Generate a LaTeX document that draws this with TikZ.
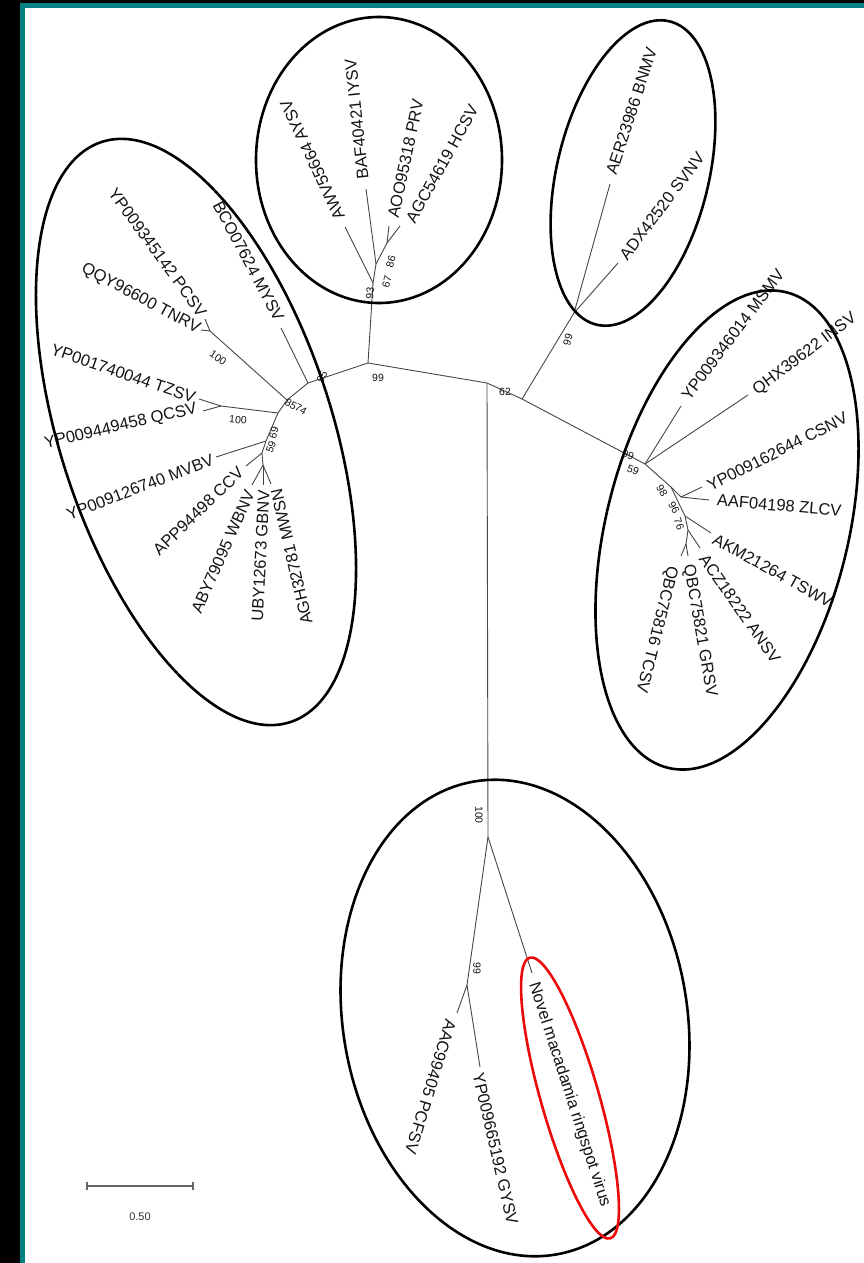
\documentclass[tikz,border=0pt]{standalone}
\usepackage{fontspec}
\setmainfont{Liberation Sans}
\definecolor{brc}{RGB}{70,70,70}
\definecolor{txt}{RGB}{20,20,20}
\definecolor{frameteal}{RGB}{0,128,128}
\definecolor{ringred}{RGB}{235,10,10}
\begin{document}
\begin{tikzpicture}[x=1pt,y=1pt]
\tikzset{
  br/.style={draw=brc, line width=0.9pt},
  leaf/.style={font=\fontsize{16.5}{17}\selectfont, inner sep=0pt, text=txt},
  boot/.style={font=\fontsize{10.5}{11}\selectfont, inner sep=0pt, text=txt},
  clade/.style={draw=black, line width=2.6pt},
}
% page and frame
\useasboundingbox (0,0) rectangle (864,-1263);
\fill[white] (0,0) rectangle (864,-1263);
\fill[black] (0,0) rectangle (20,-1263);
\fill[black] (0,0) rectangle (864,-3);
\fill[frameteal] (20,-3) rectangle (864,-8);
\fill[frameteal] (20,-3) rectangle (25,-1263);

% ---------- internal nodes ----------
\coordinate (C0) at (487,-383);
\coordinate (C1) at (522,-399);
\coordinate (L0) at (368,-363);
\coordinate (L1) at (308,-383);
\coordinate (L2) at (287,-400);
\coordinate (L3) at (278,-413);
\coordinate (L4) at (266,-441);
\coordinate (L5) at (262,-453);
\coordinate (L6) at (263,-465);
\coordinate (PT) at (210,-331);
\coordinate (TQ) at (221,-406);
\coordinate (T1) at (373,-283);
\coordinate (T2) at (376,-264);
\coordinate (T3) at (387,-243);
\coordinate (R1) at (574,-313);
\coordinate (R2) at (645,-464);
\coordinate (R3) at (671,-487);
\coordinate (CZ) at (681,-497);
\coordinate (R5) at (685,-516);
\coordinate (R6) at (688,-530);
\coordinate (R7) at (686,-544);
\coordinate (B0) at (488,-837);
\coordinate (B1) at (467,-985);

% ---------- branch tips ----------
\coordinate (tPCSV) at (205,-319);
\coordinate (tTNRV) at (201,-330);
\coordinate (tBCO)  at (281,-328);
\coordinate (tTZSV) at (199,-399);
\coordinate (tQCSV) at (203,-411);
\coordinate (tMVBV) at (216,-457);
\coordinate (tAPP)  at (246,-466);
\coordinate (tABY)  at (252,-485);
\coordinate (tUBY)  at (263,-485);
\coordinate (tAGH)  at (271,-484);
\coordinate (tAWV)  at (345,-227);
\coordinate (tBAF)  at (366,-189);
\coordinate (tAOO)  at (389,-226);
\coordinate (tAGC)  at (400,-226);
\coordinate (tAER)  at (610,-184);
\coordinate (tADX)  at (618,-263);
\coordinate (tMSMV) at (681,-406);
\coordinate (tINSV) at (748,-395);
\coordinate (tCSNV) at (702,-487);
\coordinate (tZLCV) at (709,-500);
\coordinate (tTSWV) at (711,-533);
\coordinate (tACZ)  at (700,-548);
\coordinate (tGRSV) at (688,-556);
\coordinate (tTCSV) at (681,-556);
\coordinate (tNMRV) at (532,-973);
\coordinate (tAAC)  at (457,-1013);
\coordinate (tGYSV) at (480,-1067);

% ---------- branches ----------
\draw[br] (L0) -- (C0) -- (C1);
\draw[br] (C0) -- (B0);
\draw[br] (C1) -- (R1);
\draw[br] (C1) -- (R2);
% left clade
\draw[br] (L0) -- (L1) -- (L2) -- (L3) -- (L4) -- (L5) -- (L6);
\draw[br] (L1) -- (tBCO);
\draw[br] (L2) -- (PT);
\draw[br] (PT) -- (tPCSV);
\draw[br] (PT) -- (tTNRV);
\draw[br] (L3) -- (TQ);
\draw[br] (TQ) -- (tTZSV);
\draw[br] (TQ) -- (tQCSV);
\draw[br] (L4) -- (tMVBV);
\draw[br] (L5) -- (tAPP);
\draw[br] (L6) -- (tABY);
\draw[br] (L6) -- (tUBY);
\draw[br] (L6) -- (tAGH);
% top clade
\draw[br] (L0) -- (T1) -- (T2) -- (T3);
\draw[br] (T1) -- (tAWV);
\draw[br] (T2) -- (tBAF);
\draw[br] (T3) -- (tAOO);
\draw[br] (T3) -- (tAGC);
% upper right clade
\draw[br] (R1) -- (tAER);
\draw[br] (R1) -- (tADX);
% right clade
\draw[br] (R2) -- (R3) -- (CZ);
\draw[br] (R3) -- (R5) -- (R6) -- (R7);
\draw[br] (R2) -- (tMSMV);
\draw[br] (R2) -- (tINSV);
\draw[br] (CZ) -- (tCSNV);
\draw[br] (CZ) -- (tZLCV);
\draw[br] (R5) -- (tTSWV);
\draw[br] (R6) -- (tACZ);
\draw[br] (R7) -- (tGRSV);
\draw[br] (R7) -- (tTCSV);
% bottom clade
\draw[br] (B0) -- (B1);
\draw[br] (B0) -- (tNMRV);
\draw[br] (B1) -- (tAAC);
\draw[br] (B1) -- (tGYSV);

% ---------- leaf labels ----------
\node[leaf, anchor=east, rotate=-54] (lPCSV) at (203,-315) {YP009345142 PCSV};
\node[leaf, anchor=east, rotate=-28] (lTNRV) at (199,-330) {QQY96600 TNRV};
\node[leaf, anchor=east, rotate=-62] (lBCO)  at (280,-320) {BCO07624 MYSV};
\node[leaf, anchor=east, rotate=-19] (lTZSV) at (195,-398) {YP001740044 TZSV};
\node[leaf, anchor=east, rotate=13]  (lQCSV) at (197,-409) {YP009449458 QCSV};
\node[leaf, anchor=east, rotate=21]  (lMVBV) at (213,-459) {YP009126740 MVBV};
\node[leaf, anchor=east, rotate=44]  (lAPP)  at (241,-470) {APP94498 CCV};
\node[leaf, anchor=east, rotate=66]  (lABY)  at (250,-491) {ABY79095 WBNV};
\node[leaf, anchor=east, rotate=87]  (lUBY)  at (264,-490) {UBY12673 GBNV};
\node[leaf, anchor=east, rotate=103] (lAGH)  at (276,-489) {AGH32781 MWSN};
\node[leaf, anchor=west, rotate=115] (lAWV)  at (340,-219) {AWV55664 AYSV};
\node[leaf, anchor=west, rotate=96]  (lBAF)  at (363,-179) {BAF40421 IYSV};
\node[leaf, anchor=west, rotate=78]  (lAOO)  at (393,-218) {AOO95318 PRV};
\node[leaf, anchor=west, rotate=61]  (lAGC)  at (410,-222) {AGC54619 HCSV};
\node[leaf, anchor=west, rotate=72]  (lAER)  at (611,-174) {AER23986 BNMV};
\node[leaf, anchor=west, rotate=53]  (lADX)  at (623,-258) {ADX42520 SVNV};
\node[leaf, anchor=west, rotate=53]  (lMSMV) at (685,-398) {YP009346014 MSMV};
\node[leaf, anchor=west, rotate=37]  (lINSV) at (755,-392) {QHX39622 INSV};
\node[leaf, anchor=west, rotate=27]  (lCSNV) at (708,-487) {YP009162644 CSNV};
\node[leaf, anchor=west, rotate=-5]  (lZLCV) at (717,-500) {AAF04198 ZLCV};
\node[leaf, anchor=west, rotate=-29] (lTSWV) at (714,-538) {AKM21264 TSWV};
\node[leaf, anchor=west, rotate=-55] (lACZ)  at (703,-556) {ACZ18222 ANSV};
\node[leaf, anchor=west, rotate=-80] (lGRSV) at (688,-565) {QBC75821 GRSV};
\node[leaf, anchor=west, rotate=-104] (lTCSV) at (672,-566) {QBC75816 TCSV};
\node[leaf, anchor=west, rotate=-72] (lNMRV) at (533,-983) {Novel macadamia ringspot virus};
\node[leaf, anchor=west, rotate=-107] (lAAC) at (451,-1020) {AAC99405 PCFSV};
\node[leaf, anchor=west, rotate=-77] (lGYSV) at (478,-1073) {YP009665192 GYSV};

% ---------- bootstrap values ----------
\node[boot] (b1)  at (378,-378) {99};
\node[boot] (b2)  at (505,-392) {62};
\node[boot, rotate=75]  (b3)  at (568,-340) {99};
\node[boot, rotate=85]  (b4)  at (370,-293) {93};
\node[boot, rotate=75]  (b5)  at (387,-282) {67};
\node[boot, rotate=75]  (b6)  at (391,-262) {86};
\node[boot, rotate=65]  (b7)  at (322,-377) {95};
\node[boot, rotate=-35] (b8)  at (218,-358) {100};
\node[boot, rotate=-30] (b9)  at (291,-404) {85};
\node[boot, rotate=-30] (b10) at (301,-409) {74};
\node[boot, rotate=-5]  (b11) at (238,-420) {100};
\node[boot, rotate=75]  (b12) at (274,-433) {69};
\node[boot, rotate=70]  (b13) at (271,-447) {59};
\node[boot, rotate=-20] (b14) at (628,-455) {99};
\node[boot, rotate=-20] (b15) at (633,-470) {59};
\node[boot, rotate=-60] (b16) at (662,-491) {98};
\node[boot, rotate=-60] (b17) at (674,-508) {96};
\node[boot, rotate=-70] (b18) at (679,-524) {76};
\node[boot, rotate=-90] (b19) at (479,-815) {100};
\node[boot, rotate=-90] (b20) at (477,-968) {99};

% ---------- clade outlines ----------
\draw[clade] (379,-160) ellipse (123 and 143);
\draw[clade, rotate around={76.5:(633,-173)}] (633,-173) ellipse (156 and 76);
\draw[clade, rotate around={108:(196,-432)}] (196,-432) ellipse (305 and 136);
\draw[clade, rotate around={76:(727,-530)}] (727,-530) ellipse (245 and 121);
\draw[clade, rotate around={100:(515,-1018)}] (515,-1018) ellipse (240 and 172);
\draw[draw=ringred, line width=2.6pt, rotate around={-74:(570,-1098)}] (570,-1098) ellipse (146 and 29);

% ---------- scale bar ----------
\coordinate (s0) at (87,-1186);
\coordinate (s1) at (193,-1186);
\draw[draw=gray!80!black, line width=1.5pt] (s0) -- (s1);
\draw[draw=gray!80!black, line width=1.2pt] ([yshift=4]s0) -- ([yshift=-4]s0);
\draw[draw=gray!80!black, line width=1.2pt] ([yshift=4]s1) -- ([yshift=-4]s1);
\node[font=\fontsize{11}{12}\selectfont, text=gray!40!black, inner sep=0pt] (sl) at (140,-1217) {0.50};
\end{tikzpicture}
\end{document}
